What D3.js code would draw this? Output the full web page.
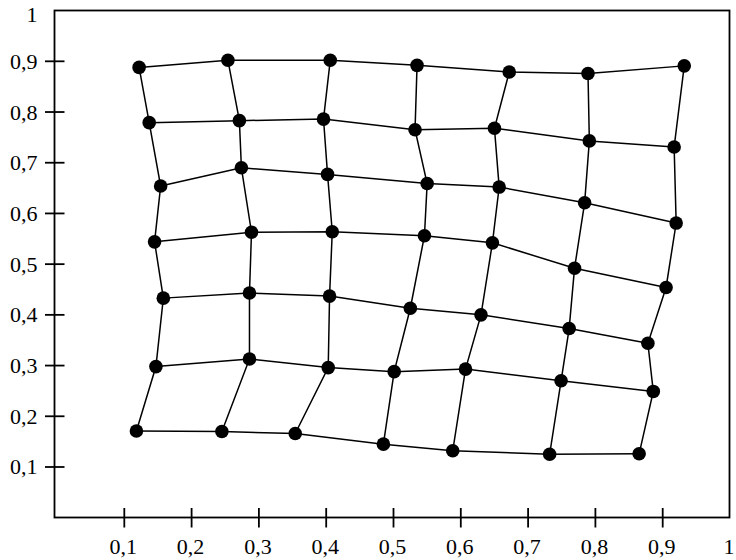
<!DOCTYPE html>
<html>
<head>
<meta charset="utf-8">
<script src="https://cdn.jsdelivr.net/npm/d3@7"></script>
<style>
  html, body { margin: 0; padding: 0; background: #fff; }
  svg { display: block; }
  text { font-family: "Liberation Serif", "DejaVu Serif", serif; fill: #000; }
</style>
</head>
<body>
<svg id="chart" width="736" height="560"></svg>
<script>
// Grid of points, rows from top to bottom, each with 7 columns (left to right)
const row0X = [0.122, 0.254, 0.406, 0.535, 0.672, 0.789, 0.932];
const row0Y = [0.888, 0.902, 0.902, 0.892, 0.879, 0.876, 0.891];
const row1X = [0.137, 0.271, 0.396, 0.532, 0.650, 0.791, 0.917];
const row1Y = [0.779, 0.783, 0.786, 0.765, 0.768, 0.743, 0.731];
const row2X = [0.154, 0.274, 0.402, 0.550, 0.657, 0.784, 0.920];
const row2Y = [0.654, 0.690, 0.677, 0.659, 0.652, 0.621, 0.581];
const row3X = [0.145, 0.289, 0.409, 0.546, 0.647, 0.769, 0.905];
const row3Y = [0.544, 0.563, 0.564, 0.556, 0.542, 0.492, 0.454];
const row4X = [0.158, 0.286, 0.405, 0.525, 0.630, 0.761, 0.878];
const row4Y = [0.433, 0.443, 0.437, 0.413, 0.400, 0.373, 0.344];
const row5X = [0.147, 0.286, 0.403, 0.501, 0.607, 0.749, 0.886];
const row5Y = [0.298, 0.313, 0.296, 0.288, 0.293, 0.270, 0.249];
const row6X = [0.118, 0.245, 0.354, 0.485, 0.588, 0.732, 0.865];
const row6Y = [0.171, 0.170, 0.166, 0.145, 0.132, 0.125, 0.126];

const rowsX = [row0X, row1X, row2X, row3X, row4X, row5X, row6X];
const rowsY = [row0Y, row1Y, row2Y, row3Y, row4Y, row5Y, row6Y];

const xTicks = [0.1, 0.2, 0.3, 0.4, 0.5, 0.6, 0.7, 0.8, 0.9, 1];
const yTicks = [0.1, 0.2, 0.3, 0.4, 0.5, 0.6, 0.7, 0.8, 0.9, 1];
const tickLabel = v => (v === 1 ? "1" : d3.format(".1f")(v).replace(".", ","));

const svg = d3.select("#chart");
const x = d3.scaleLinear().domain([0, 1]).range([57, 730]);
const y = d3.scaleLinear().domain([0, 1]).range([517.7, 10.6]);

const frame = { left: 54.5, right: 729.5, top: 10.5, bottom: 517.5 };

// Build grid
const grid = rowsX.map((rx, i) => rx.map((vx, j) => ({ x: vx, y: rowsY[i][j] })));
const nCols = grid[0].length;

const line = d3.line().x(d => x(d.x)).y(d => y(d.y));
const gLines = svg.append("g").attr("fill", "none").attr("stroke", "#000").attr("stroke-width", 1.5);
grid.forEach(r => gLines.append("path").attr("d", line(r)));
for (let j = 0; j < nCols; j++) {
  gLines.append("path").attr("d", line(grid.map(r => r[j])));
}

// Frame
svg.append("rect")
  .attr("x", frame.left).attr("y", frame.top)
  .attr("width", frame.right - frame.left).attr("height", frame.bottom - frame.top)
  .attr("fill", "none").attr("stroke", "#000").attr("stroke-width", 1.8);

// X ticks
const gx = svg.append("g");
xTicks.filter(v => v < 1).forEach(v => {
  gx.append("line").attr("x1", x(v)).attr("x2", x(v))
    .attr("y1", frame.bottom - 9.5).attr("y2", frame.bottom + 10)
    .attr("stroke", "#000").attr("stroke-width", 1.8);
});
xTicks.forEach(v => {
  gx.append("text").attr("x", x(v) - 1).attr("y", 554)
    .attr("text-anchor", "middle").attr("font-size", 22).text(tickLabel(v));
});

// Y ticks
const gy = svg.append("g");
yTicks.filter(v => v < 1).forEach(v => {
  gy.append("line").attr("y1", y(v)).attr("y2", y(v))
    .attr("x1", frame.left - 9.5).attr("x2", frame.left + 10)
    .attr("stroke", "#000").attr("stroke-width", 1.8);
});
yTicks.forEach(v => {
  gy.append("text").attr("x", 37.5).attr("y", y(v) + (v === 1 ? 3.5 : 0))
    .attr("dy", "0.34em")
    .attr("text-anchor", "end").attr("font-size", 22).text(tickLabel(v));
});

// Points
svg.append("g").selectAll("circle")
  .data(grid.flat())
  .join("circle")
  .attr("cx", d => x(d.x)).attr("cy", d => y(d.y)).attr("r", 6.8)
  .attr("fill", "#000");
</script>
</body>
</html>
